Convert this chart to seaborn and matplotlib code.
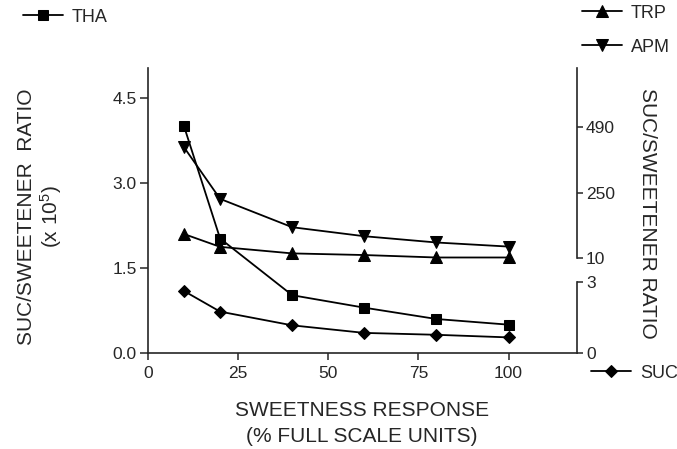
import matplotlib
matplotlib.use("Agg")
import matplotlib.pyplot as plt
import seaborn as sns
import numpy as np

# ---- data ----
response = [10, 20, 40, 60, 80, 100]           # % full scale units
tha = [4.00, 2.02, 1.02, 0.80, 0.60, 0.50]      # SUC/THA ratio (x 10^5), left axis
trp = [98, 51, 27, 21, 12, 12]                  # SUC/TRP ratio, right upper axis
apm = [416, 227, 123, 90, 67, 52]               # SUC/APM ratio, right upper axis
suc = [2.62, 1.75, 1.17, 0.85, 0.77, 0.66]      # SUC ratio, right lower axis

x_ticks = [0, 25, 50, 75, 100]
left_ticks = [0.0, 1.5, 3.0, 4.5]
left_ticklabels = ["0.0", "1.5", "3.0", "4.5"]
upper_ticks = [10, 250, 490]
lower_ticks = [0, 3]

sns.set_style("ticks")
plt.rcParams["font.family"] = ["Liberation Sans", "DejaVu Sans"]
plt.rcParams["mathtext.default"] = "regular"

W, H = 677, 449
fig = plt.figure(figsize=(W / 100, H / 100), dpi=100)
ax = fig.add_axes([148 / W, 1 - 353 / H, (577 - 148) / W, (353 - 68) / H])

XMAX = 119
LTOP = 5.03
ax.set_xlim(0, XMAX)
ax.set_ylim(0, LTOP)

# upper right axis: 10 at L=1.676, 490 at L=3.986
up_slope = 480 / (3.986 - 1.676)
up_lo = 10 - 1.676 * up_slope
up_hi = 10 + (LTOP - 1.676) * up_slope
# lower right axis: 0 at L=0, 3 at L=1.252
lo_slope = 3 / 1.252

ax_up = ax.twinx()
ax_lo = ax.twinx()
ax_up.set_ylim(up_lo, up_hi)
ax_lo.set_ylim(0, LTOP * lo_slope)

lw = 1.3
mk = dict(color="black", markeredgecolor="black", markerfacecolor="black", linewidth=lw)
sns.lineplot(x=response, y=tha, ax=ax, marker="s", markersize=7, **mk)
sns.lineplot(x=response, y=trp, ax=ax_up, marker="^", markersize=8, **mk)
sns.lineplot(x=response, y=apm, ax=ax_up, marker="v", markersize=8, **mk)
sns.lineplot(x=response, y=suc, ax=ax_lo, marker="D", markersize=6, **mk)

for a in (ax, ax_up, ax_lo):
    a.set_xlabel("")
    a.set_ylabel("")
    a.spines["top"].set_visible(False)

ax.spines["right"].set_visible(False)
ax.spines["left"].set_linewidth(1.2)
ax.spines["bottom"].set_linewidth(1.2)
for a in (ax_up, ax_lo):
    a.spines["left"].set_visible(False)
    a.spines["bottom"].set_visible(False)
    a.spines["right"].set_linewidth(1.2)

ax_up.spines["right"].set_bounds(10, up_hi)
ax_lo.spines["right"].set_bounds(0, 3)

ax.set_xticks(x_ticks)
ax.set_xticklabels([str(t) for t in x_ticks])
ax.set_yticks(left_ticks)
ax.set_yticklabels(left_ticklabels)
ax_up.set_yticks(upper_ticks)
ax_up.set_yticklabels([str(t) for t in upper_ticks])
ax_lo.set_yticks(lower_ticks)
ax_lo.set_yticklabels([str(t) for t in lower_ticks])

ax.tick_params(axis="x", direction="out", length=5, width=1.1, pad=4, labelsize=12.5)
ax.tick_params(axis="y", direction="out", length=6, width=1.1, pad=2, labelsize=12.5)
for a in (ax_up, ax_lo):
    a.tick_params(axis="y", direction="out", length=4, width=1.1, pad=2.5, labelsize=12.5)

# axis labels
fs_lab = 15
fig.text(27 / W, 1 - 217 / H, "SUC/SWEETENER  RATIO", rotation=90, ha="center", va="center", fontsize=fs_lab)
fig.text(51 / W, 1 - 217 / H, "(x 10$^{5}$)", rotation=90, ha="center", va="center", fontsize=fs_lab)
fig.text(648 / W, 1 - 213 / H, "SUC/SWEETENER RATIO", rotation=270, ha="center", va="center", fontsize=fs_lab)
fig.text(362 / W, 1 - 411 / H, "SWEETNESS RESPONSE", ha="center", va="center", fontsize=fs_lab)
fig.text(362 / W, 1 - 437 / H, "(% FULL SCALE UNITS)", ha="center", va="center", fontsize=fs_lab)

# legends
lines = {"THA": ax.lines[0], "TRP": ax_up.lines[0], "APM": ax_up.lines[1], "SUC": ax_lo.lines[0]}
pos = {"THA": (23, 17), "TRP": (582, 13), "APM": (582, 47), "SUC": (591, 373)}
for name, (px, py) in pos.items():
    fig.legend(handles=[lines[name]], labels=[name], loc="center left",
               bbox_to_anchor=(px / W, 1 - py / H), frameon=False,
               borderpad=0, borderaxespad=0, handlelength=2.2,
               handletextpad=0.5, fontsize=13)

fig.savefig("out.png", dpi=100)
